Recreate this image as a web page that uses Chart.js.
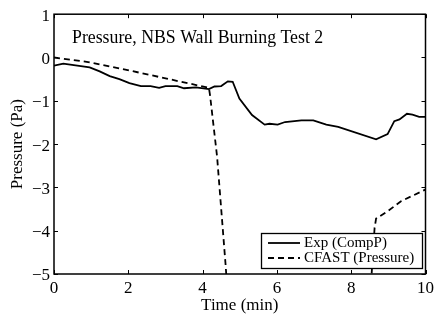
<!DOCTYPE html>
<html>
<head>
<meta charset="utf-8">
<script src="https://cdn.jsdelivr.net/npm/chart.js@4"></script>
<style>
  html, body { margin: 0; padding: 0; background: #fff; }
  #wrap { width: 438px; height: 320px; }
</style>
</head>
<body>
<div id="wrap"><canvas id="chart" width="438" height="320"></canvas></div>
<script>
const expTime = [0, 0.25, 0.96, 1.23, 1.5, 1.76, 2.03, 2.34, 2.6, 2.83, 3.0, 3.32, 3.5, 3.82, 4.17, 4.32, 4.5, 4.68, 4.81, 4.99, 5.33, 5.67, 5.8, 6.02, 6.22, 6.66, 6.98, 7.33, 7.65, 8.67, 8.98, 9.16, 9.3, 9.5, 9.65, 9.83, 10];
const expPressure = [-0.19, -0.14, -0.23, -0.32, -0.43, -0.5, -0.59, -0.66, -0.66, -0.7, -0.66, -0.66, -0.71, -0.69, -0.73, -0.67, -0.66, -0.55, -0.56, -0.95, -1.33, -1.55, -1.53, -1.55, -1.49, -1.45, -1.45, -1.55, -1.6, -1.89, -1.77, -1.47, -1.43, -1.3, -1.32, -1.37, -1.37];

// CFAST (Pressure) - model, dips far below the axis between ~4.7 and ~8.5 min
const cfastTime = [0, 0.96, 2.03, 3.1, 4.17, 4.2, 4.39, 4.62, 4.8, 6.5, 8.4, 8.63, 8.67, 8.98, 9.34, 10];
const cfastPressure = [0, -0.11, -0.3, -0.5, -0.7, -0.87, -2.29, -4.8, -7, -14, -7, -3.93, -3.72, -3.55, -3.32, -3.05];

const xTicks = [0, 2, 4, 6, 8, 10];
const yTicks = [1, 0, -1, -2, -3, -4, -5];

const FONT = '"Liberation Serif", serif';

function toPoints(xs, ys) {
    return xs.map((x, i) => ({ x: x, y: ys[i] }));
}

// box, inward ticks, in-plot title and legend (MATLAB look)
const matlabFrame = {
    id: 'matlabFrame',
    afterDraw(chart) {
        const ctx = chart.ctx;
        const a = chart.chartArea;
        const xs = chart.scales.x, ys = chart.scales.y;
        ctx.save();
        ctx.strokeStyle = '#000';
        ctx.lineWidth = 1.5;
        ctx.strokeRect(a.left, a.top, a.right - a.left, a.bottom - a.top);
        ctx.lineWidth = 1;
        ctx.beginPath();
        xTicks.forEach(v => {
            const px = Math.round(xs.getPixelForValue(v)) + 0.5;
            ctx.moveTo(px, a.bottom); ctx.lineTo(px, a.bottom - 4);
            ctx.moveTo(px, a.top); ctx.lineTo(px, a.top + 4);
        });
        yTicks.forEach(v => {
            const py = Math.round(ys.getPixelForValue(v)) + 0.5;
            ctx.moveTo(a.left, py); ctx.lineTo(a.left + 4, py);
            ctx.moveTo(a.right, py); ctx.lineTo(a.right - 4, py);
        });
        ctx.stroke();

        // title inside the axes
        ctx.fillStyle = '#000';
        ctx.font = '17.8px ' + FONT;
        ctx.textBaseline = 'middle';
        ctx.textAlign = 'left';
        ctx.fillText('Pressure, NBS Wall Burning Test 2', a.left + 18, 38);

        // legend box, bottom right
        const bx = 261, by = 233, bw = 161, bh = 35;
        ctx.fillStyle = '#fff';
        ctx.fillRect(bx, by, bw, bh);
        ctx.lineWidth = 1.3;
        ctx.strokeRect(bx + 0.5, by + 0.5, bw, bh);
        ctx.font = '15px ' + FONT;
        chart.data.datasets.forEach((ds, i) => {
            const ly = by + 10 + i * 15;
            ctx.beginPath();
            ctx.lineWidth = ds.borderWidth;
            ctx.setLineDash(ds.borderDash || []);
            ctx.moveTo(bx + 7, ly); ctx.lineTo(bx + 39, ly);
            ctx.stroke();
            ctx.setLineDash([]);
            ctx.fillStyle = '#000';
            ctx.fillText(ds.label, bx + 43, ly);
        });
        ctx.restore();
    }
};

new Chart(document.getElementById('chart'), {
    type: 'line',
    data: {
        datasets: [
            { label: 'Exp (CompP)', data: toPoints(expTime, expPressure), borderColor: '#000', borderWidth: 1.8, pointRadius: 0, tension: 0 },
            { label: 'CFAST (Pressure)', data: toPoints(cfastTime, cfastPressure), borderColor: '#000', borderWidth: 1.8, borderDash: [6, 4], pointRadius: 0, tension: 0 }
        ]
    },
    options: {
        responsive: false,
        animation: false,
        layout: { padding: { top: 12, right: 10, left: 0, bottom: 0 } },
        plugins: { legend: { display: false }, tooltip: { enabled: false } },
        scales: {
            x: {
                type: 'linear', min: 0, max: 10,
                afterBuildTicks: s => { s.ticks = xTicks.map(v => ({ value: v })); },
                afterFit: s => { s.height = 46; },
                grid: { display: false, drawTicks: false },
                border: { display: false },
                ticks: { color: '#000', font: { family: FONT, size: 17 }, padding: 4, maxRotation: 0 },
                title: { display: true, text: 'Time (min)', color: '#000', font: { family: FONT, size: 17 }, padding: { top: 0, bottom: 4 } }
            },
            y: {
                type: 'linear', min: -5, max: 1,
                afterBuildTicks: s => { s.ticks = yTicks.map(v => ({ value: v })); },
                afterFit: s => { s.width = 54; },
                grid: { display: false, drawTicks: false },
                border: { display: false },
                ticks: { color: '#000', font: { family: FONT, size: 17 }, padding: 4, labelOffset: 2,
                         callback: v => String(v).replace('-', '\u2212') },
                title: { display: true, text: 'Pressure (Pa)', color: '#000', font: { family: FONT, size: 17 }, padding: { top: 7, bottom: 0 } }
            }
        }
    },
    plugins: [matlabFrame]
});
</script>
</body>
</html>
